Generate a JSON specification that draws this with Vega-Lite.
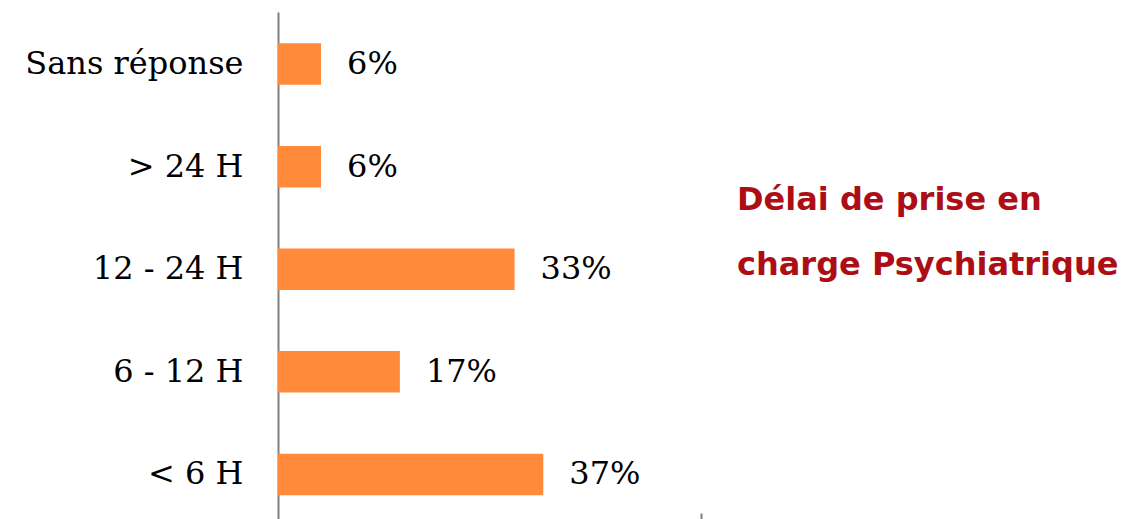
{
  "$schema": "https://vega.github.io/schema/vega-lite/v6.json",
  "width": 423,
  "height": 507,
  "autosize": {"type": "none"},
  "padding": {"left": 278, "top": 12, "right": 423, "bottom": 0},
  "background": "white",
  "title": {
    "text": ["Délai de prise en", "charge Psychiatrique"],
    "orient": "top",
    "anchor": "start",
    "frame": "group",
    "font": "DejaVu Sans",
    "fontSize": 32,
    "fontWeight": "bold",
    "color": "#AD0E15",
    "baseline": "alphabetic",
    "lineHeight": 65,
    "offset": 0,
    "dx": 459,
    "dy": 295
  },
  "data": {
    "values": [
      {"categorie": "Sans réponse", "part": 0.06},
      {"categorie": "> 24 H", "part": 0.06},
      {"categorie": "12 - 24 H", "part": 0.33},
      {"categorie": "6 - 12 H", "part": 0.17},
      {"categorie": "< 6 H", "part": 0.37}
    ]
  },
  "encoding": {
    "y": {
      "field": "categorie",
      "type": "nominal",
      "sort": null,
      "scale": {"paddingInner": 0.5955, "paddingOuter": 0.2685, "align": 0.568},
      "axis": {
        "title": null,
        "domain": true,
        "domainColor": "#808080",
        "domainWidth": 2,
        "ticks": false,
        "grid": false,
        "labelFont": "DejaVu Serif",
        "labelFontSize": 32,
        "labelColor": "#000000",
        "labelPadding": 35,
        "labelLimit": 0
      }
    },
    "x": {
      "field": "part",
      "type": "quantitative",
      "scale": {"domain": [0, 0.59], "nice": false, "zero": true},
      "axis": {
        "title": null,
        "values": [0.59],
        "labels": false,
        "domain": false,
        "grid": false,
        "ticks": true,
        "tickColor": "#808080",
        "tickWidth": 2,
        "tickSize": 6,
        "offset": -6
      }
    }
  },
  "layer": [
    {"mark": {"type": "bar", "color": "#FF8A3A"}},
    {
      "mark": {
        "type": "text",
        "align": "left",
        "baseline": "middle",
        "dx": 26,
        "font": "DejaVu Serif",
        "fontSize": 32,
        "color": "#000000"
      },
      "encoding": {"text": {"field": "part", "type": "quantitative", "format": ".0%"}}
    }
  ],
  "config": {"view": {"stroke": null}}
}
